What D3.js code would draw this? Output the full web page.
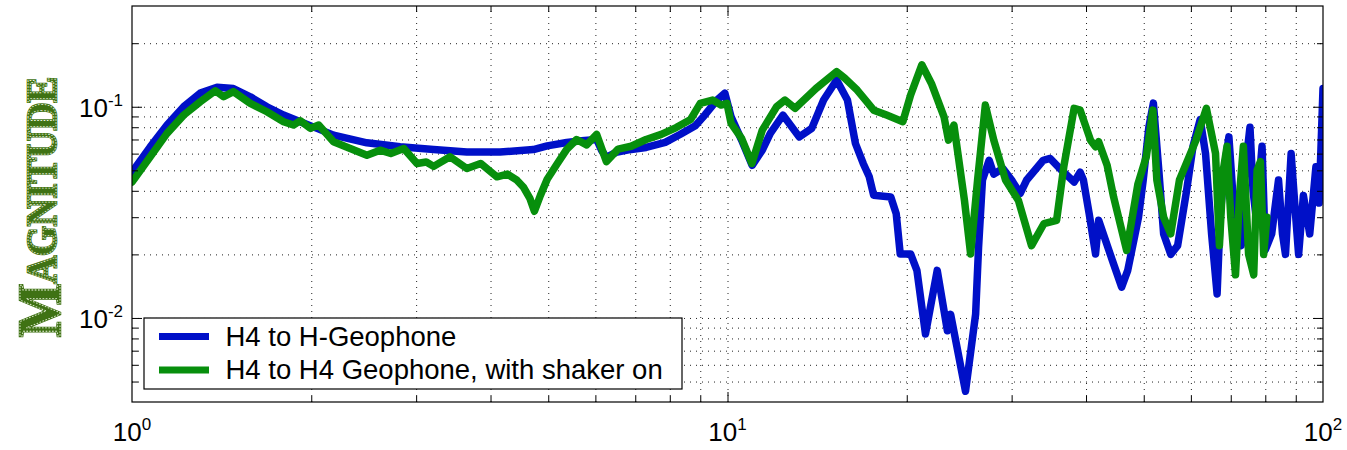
<!DOCTYPE html>
<html>
<head>
<meta charset="utf-8">
<script src="https://cdn.jsdelivr.net/npm/d3@7"></script>
<style>
  body { margin: 0; background: #fff; }
  svg { display: block; font-family: "Liberation Sans", Arial, sans-serif; }
</style>
</head>
<body>
<svg id="chart" width="1347" height="450"></svg>
<script>
// Transfer function magnitude, H4 to H-Geophone
const freqH = [1.0, 1.073, 1.145, 1.221, 1.302, 1.389, 1.48, 1.58, 1.685, 1.797, 1.917, 2.045, 2.18, 2.48, 2.82, 3.21, 3.65, 4.15, 4.72, 4.98, 5.37, 5.69, 6.03, 6.15, 6.26, 6.5, 6.89, 7.3, 7.86, 8.32, 8.83, 9.17, 9.6, 9.9, 10.14, 10.56, 11.0, 11.44, 11.8, 12.39, 13.2, 13.85, 14.5, 15.25, 15.9, 16.4, 16.9, 17.3, 17.6, 18.8, 19.2, 19.5, 20.3, 20.8, 21.5, 22.5, 23.4, 23.7, 25.1, 26.1, 26.4, 26.8, 27.5, 28.0, 29.0, 30.0, 31.0, 31.8, 33.9, 34.8, 36.4, 38.2, 39.1, 39.6, 40.5, 41.5, 42.0, 44.5, 45.9, 47.0, 49.0, 49.9, 51.0, 51.9, 53.0, 54.0, 55.5, 57.0, 59.0, 60.5, 62.2, 63.5, 65.0, 66.4, 67.2, 68.2, 69.5, 71.0, 72.9, 74.0, 75.4, 76.3, 77.2, 79.0, 80.0, 82.0, 84.2, 85.5, 86.5, 88.4, 90.0, 91.0, 92.7, 95.0, 97.3, 98.5, 100];
const magH = [0.049, 0.0646, 0.0819, 0.1, 0.116, 0.1236, 0.122, 0.1115, 0.1, 0.0913, 0.085, 0.079, 0.0734, 0.0675, 0.0646, 0.0627, 0.0611, 0.0611, 0.0627, 0.0653, 0.0677, 0.069, 0.07, 0.062, 0.0576, 0.0608, 0.0628, 0.0642, 0.0678, 0.0739, 0.0814, 0.0917, 0.1076, 0.116, 0.0896, 0.0695, 0.0528, 0.0623, 0.0748, 0.0913, 0.072, 0.079, 0.1076, 0.134, 0.1076, 0.067, 0.0539, 0.0466, 0.0381, 0.0374, 0.0312, 0.0201, 0.0201, 0.0168, 0.0084, 0.0168, 0.0087, 0.0104, 0.0045, 0.0104, 0.0216, 0.045, 0.0558, 0.048, 0.051, 0.045, 0.0388, 0.045, 0.0558, 0.0569, 0.05, 0.044, 0.049, 0.045, 0.031, 0.0201, 0.029, 0.018, 0.014, 0.0168, 0.03, 0.045, 0.08, 0.104, 0.05, 0.025, 0.02, 0.022, 0.04, 0.065, 0.087, 0.06, 0.025, 0.013, 0.03, 0.05, 0.072, 0.03, 0.022, 0.05, 0.08, 0.04, 0.03, 0.065, 0.021, 0.025, 0.045, 0.025, 0.02, 0.06, 0.03, 0.02, 0.038, 0.025, 0.052, 0.035, 0.122];

// Transfer function magnitude, H4 to H4 Geophone with the shaker running
const freqS = [1.0, 1.073, 1.145, 1.221, 1.302, 1.38, 1.425, 1.48, 1.58, 1.685, 1.797, 1.867, 1.917, 1.993, 2.058, 2.18, 2.325, 2.48, 2.61, 2.72, 2.86, 3.01, 3.12, 3.21, 3.42, 3.65, 3.85, 4.10, 4.27, 4.43, 4.54, 4.66, 4.74, 4.85, 4.98, 5.17, 5.37, 5.58, 5.8, 6.03, 6.26, 6.55, 6.89, 7.3, 7.74, 8.2, 8.67, 9.0, 9.44, 9.75, 9.98, 10.14, 10.56, 10.99, 11.44, 12.09, 12.49, 12.99, 14.08, 15.25, 15.74, 16.51, 17.05, 17.6, 18.5, 19.7, 20.3, 21.2, 22.0, 23.1, 23.5, 24.0, 25.0, 25.6, 26.3, 27.1, 28.0, 29.3, 30.8, 32.4, 34.0, 35.7, 36.7, 38.2, 39.1, 40.7, 41.5, 42.0, 43.4, 44.5, 46.8, 48.9, 50.5, 51.8, 52.6, 54.0, 55.5, 57.4, 61.2, 63.7, 66.0, 67.0, 68.0, 69.0, 70.0, 71.3, 72.5, 73.5, 75.0, 76.5, 77.5, 78.5, 79.5, 80.5];
const magS = [0.044, 0.058, 0.0748, 0.0913, 0.1056, 0.119, 0.1115, 0.118, 0.1037, 0.0947, 0.085, 0.0819, 0.0859, 0.079, 0.082, 0.0683, 0.0634, 0.059, 0.0623, 0.0601, 0.0634, 0.0539, 0.0548, 0.0522, 0.058, 0.051, 0.0539, 0.0466, 0.048, 0.0449, 0.0417, 0.0367, 0.032, 0.038, 0.0454, 0.0534, 0.0628, 0.07, 0.066, 0.074, 0.055, 0.063, 0.065, 0.07, 0.074, 0.0797, 0.087, 0.1037, 0.1076, 0.1019, 0.1037, 0.0834, 0.0708, 0.0539, 0.0775, 0.1, 0.1076, 0.0983, 0.122, 0.1466, 0.1365, 0.12, 0.1076, 0.0964, 0.0913, 0.085, 0.1136, 0.158, 0.129, 0.0896, 0.0695, 0.0819, 0.036, 0.0201, 0.045, 0.1019, 0.0695, 0.045, 0.036, 0.022, 0.028, 0.029, 0.0519, 0.0983, 0.0964, 0.0695, 0.0646, 0.0683, 0.0528, 0.0374, 0.0209, 0.0432, 0.058, 0.0964, 0.045, 0.03, 0.025, 0.045, 0.0695, 0.0983, 0.06, 0.022, 0.05, 0.065, 0.03, 0.016, 0.04, 0.065, 0.02, 0.016, 0.05, 0.055, 0.02, 0.03];

const seriesNames = ["H4 to H-Geophone", "H4 to H4 Geophone, with shaker on"];
const seriesColors = ["#0010c8", "#078f0c"];
const xMajor = [1, 10, 100];
const xMajorExp = ["0", "1", "2"];
const yMajor = [0.01, 0.1];
const yMajorExp = ["-2", "-1"];
const yTitle = "MAGNITUDE";

const svg = d3.select("#chart");
const pLeft = 132, pRight = 1323, pTop = 6, pBottom = 402;
const W = pRight - pLeft, H = pBottom - pTop;

const x = d3.scaleLog().domain([1, 100]).range([pLeft, pRight]);
const y = d3.scaleLog().domain([0.004, 0.3]).range([pBottom, pTop]);

// every decade step (1..9 × 10^k) inside each domain
const xAll = [];
for (let d = 1; d <= 10; d *= 10) for (let k = 1; k <= 9; k++) xAll.push(k * d);
xAll.push(100);
const yAll = [];
[0.001, 0.01, 0.1].forEach(d => { for (let k = 1; k <= 9; k++) { const v = +(k * d).toPrecision(3); if (v >= 0.004 && v <= 0.3) yAll.push(v); } });
const xInner = xAll.filter(v => v > 1 && v < 100);
const yInner = yAll.filter(v => v > 0.004 && v < 0.3);

// dotted grid
svg.append("g").attr("transform", `translate(0,${pBottom})`)
  .call(d3.axisBottom(x).tickValues(xInner).tickSize(-H).tickFormat(""))
  .call(g => g.select(".domain").remove())
  .selectAll("line").attr("stroke", "#222").attr("stroke-width", 1).attr("stroke-dasharray", "1,5");
svg.append("g").attr("transform", `translate(${pLeft},0)`)
  .call(d3.axisLeft(y).tickValues(yInner).tickSize(-W).tickFormat(""))
  .call(g => g.select(".domain").remove())
  .selectAll("line").attr("stroke", "#222").attr("stroke-width", 1).attr("stroke-dasharray", "1,5");

// curves
const line = d3.line().x(d => x(d[0])).y(d => y(d[1]));
const seriesH = freqH.map((f, i) => [f, magH[i]]);
const seriesS = freqS.map((f, i) => [f, magS[i]]);
svg.append("clipPath").attr("id", "clip").append("rect")
  .attr("x", pLeft).attr("y", pTop).attr("width", W).attr("height", H);
[seriesH, seriesS].forEach((s, i) => {
  svg.append("path").datum(s)
    .attr("clip-path", "url(#clip)")
    .attr("fill", "none")
    .attr("stroke", seriesColors[i])
    .attr("stroke-width", 7.5)
    .attr("stroke-linejoin", "round")
    .attr("stroke-linecap", "round")
    .attr("d", line);
});

// inward ticks on all four sides
function ticks(axisFn, scale, values, size, pos) {
  svg.append("g").attr("transform", pos)
    .call(axisFn(scale).tickValues(values).tickSize(-size).tickFormat(""))
    .call(g => g.select(".domain").remove())
    .selectAll("line").attr("stroke", "#000").attr("stroke-width", 1);
}
const majorLen = 10, minorLen = 6;
const xMajIn = xInner.filter(v => xMajor.includes(v)), xMinIn = xInner.filter(v => !xMajor.includes(v));
const yMajIn = yInner.filter(v => yMajor.includes(v)), yMinIn = yInner.filter(v => !yMajor.includes(v));
ticks(d3.axisBottom, x, xMajIn, majorLen, `translate(0,${pBottom})`);
ticks(d3.axisBottom, x, xMinIn, minorLen, `translate(0,${pBottom})`);
ticks(d3.axisTop, x, xMajIn, majorLen, `translate(0,${pTop})`);
ticks(d3.axisTop, x, xMinIn, minorLen, `translate(0,${pTop})`);
ticks(d3.axisLeft, y, yMajIn, majorLen, `translate(${pLeft},0)`);
ticks(d3.axisLeft, y, yMinIn, minorLen, `translate(${pLeft},0)`);
ticks(d3.axisRight, y, yMajIn, majorLen, `translate(${pRight},0)`);
ticks(d3.axisRight, y, yMinIn, minorLen, `translate(${pRight},0)`);

// frame
svg.append("rect").attr("x", pLeft).attr("y", pTop).attr("width", W).attr("height", H)
  .attr("fill", "none").attr("stroke", "#000").attr("stroke-width", 1.2);

// tick labels as powers of ten
xMajor.forEach((v, i) => {
  const t = svg.append("text").attr("x", x(v)).attr("y", pBottom + 39)
    .attr("text-anchor", "middle").attr("font-size", 26).attr("fill", "#000");
  t.append("tspan").text("10");
  t.append("tspan").attr("dy", -11).attr("font-size", 17).text(xMajorExp[i]);
});
yMajor.forEach((v, i) => {
  const t = svg.append("text").attr("x", pLeft - 9).attr("y", y(v) + 10)
    .attr("text-anchor", "end").attr("font-size", 26).attr("fill", "#000");
  t.append("tspan").text("10");
  t.append("tspan").attr("dy", -11).attr("font-size", 17).text(yMajorExp[i]);
});

// axis title: solid green letters with a fine dotted white engraving
function titleText(g) {
  const t = g.append("text")
    .attr("text-anchor", "middle")
    .attr("font-family", "'Liberation Serif', 'DejaVu Serif', serif")
    .attr("font-weight", "bold")
    .attr("textLength", 260).attr("lengthAdjust", "spacingAndGlyphs");
  t.append("tspan").attr("font-size", 62).text(yTitle[0]);
  t.append("tspan").attr("font-size", 42).attr("dy", -4).text(yTitle.slice(1));
  return t;
}
const titleG = svg.append("g")
  .attr("transform", `translate(60,${(pTop + pBottom) / 2 + 3}) rotate(-90)`);
titleText(titleG).attr("fill", "#3f7214").attr("stroke", "#3f7214").attr("stroke-width", 2.5);
titleText(titleG).attr("fill", "none").attr("stroke", "#e8f0dc").attr("stroke-width", 0.9)
  .attr("stroke-dasharray", "1.6,1.6");

// legend
const lg = svg.append("g");
lg.append("rect").attr("x", 144).attr("y", 318).attr("width", 538).attr("height", 71)
  .attr("fill", "#fff").attr("stroke", "#000").attr("stroke-width", 1.2);
seriesNames.forEach((name, i) => {
  const ly = 336.5 + i * 33.4;
  lg.append("line").attr("x1", 159).attr("x2", 209).attr("y1", ly).attr("y2", ly)
    .attr("stroke", seriesColors[i]).attr("stroke-width", 7);
  lg.append("text").attr("x", 225.5).attr("y", ly + 9.5)
    .attr("font-size", 27.5).attr("fill", "#000").text(name);
});
</script>
</body>
</html>
